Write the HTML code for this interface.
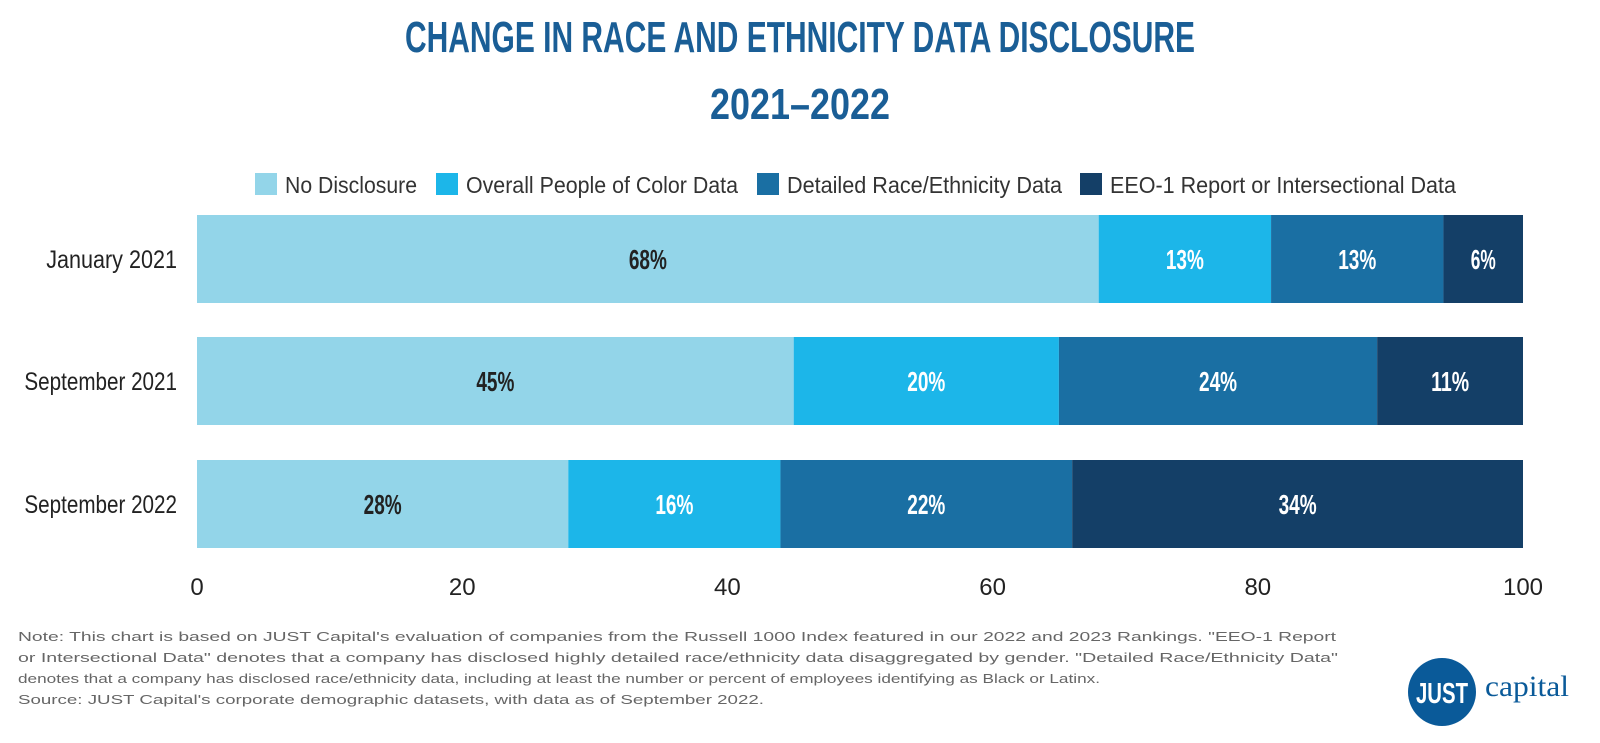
<!DOCTYPE html>
<html><head><meta charset="utf-8"><style>
body{margin:0;background:#fff;}
svg{display:block;font-family:"Liberation Sans",sans-serif;}
</style></head><body>
<svg id="chart" width="1600" height="743" viewBox="0 0 1600 743">
<text x="800" y="52" text-anchor="middle" font-size="44" font-weight="bold" fill="#1a5e96" textLength="790" lengthAdjust="spacingAndGlyphs">CHANGE IN RACE AND ETHNICITY DATA DISCLOSURE</text>
<text x="800" y="119" text-anchor="middle" font-size="44" font-weight="bold" fill="#1a5e96" textLength="180" lengthAdjust="spacingAndGlyphs">2021–2022</text>
<g id="legend"></g>
<g id="bars"></g>
<g id="axis"></g>
<text font-size="13" fill="#666">
<tspan x="18" y="641" textLength="1318" lengthAdjust="spacingAndGlyphs">Note: This chart is based on JUST Capital's evaluation of companies from the Russell 1000 Index featured in our 2022 and 2023 Rankings. "EEO-1 Report</tspan>
<tspan x="18" y="662" textLength="1320" lengthAdjust="spacingAndGlyphs">or Intersectional Data" denotes that a company has disclosed highly detailed race/ethnicity data disaggregated by gender. "Detailed Race/Ethnicity Data"</tspan>
<tspan x="18" y="683" textLength="1082" lengthAdjust="spacingAndGlyphs">denotes that a company has disclosed race/ethnicity data, including at least the number or percent of employees identifying as Black or Latinx.</tspan>
<tspan x="18" y="704" textLength="746" lengthAdjust="spacingAndGlyphs">Source: JUST Capital's corporate demographic datasets, with data as of September 2022.</tspan>
</text>
<g>
<circle cx="1442" cy="692" r="34" fill="#0a5a99"/>
<text x="1442" y="703" text-anchor="middle" font-size="29" font-weight="bold" fill="#fff" textLength="52" lengthAdjust="spacingAndGlyphs">JUST</text>
<text x="1485" y="696" font-family="Liberation Serif,serif" font-size="30" fill="#0a5a99" textLength="84" lengthAdjust="spacingAndGlyphs">capital</text>
</g>
</svg>
<script>
const categories=["January 2021","September 2021","September 2022"];
const seriesNames=["No Disclosure","Overall People of Color Data","Detailed Race/Ethnicity Data","EEO-1 Report or Intersectional Data"];
const noDisclosure=[68,45,28];
const overallPOC=[13,20,16];
const detailedRace=[13,24,22];
const eeo1=[6,11,34];
const ticks=[0,20,40,60,80,100];
const series=[noDisclosure,overallPOC,detailedRace,eeo1];
const colors=["#93d5e9","#1cb6e9","#1a6fa3","#143f67"];
const textColors=["#222","#fff","#fff","#fff"];
const NS="http://www.w3.org/2000/svg";
const x0=197,x1=1523;
const xs=v=>x0+(x1-x0)*v/100;
const rowTop=[215,337,460],barH=88;
function mk(t,a,p){const e=document.createElementNS(NS,t);for(const k in a)e.setAttribute(k,a[k]);p.appendChild(e);return e;}
const bars=document.getElementById('bars');
categories.forEach((c,i)=>{
  const y=rowTop[i];
  const lab=mk('text',{x:177,y:y+barH/2+9,'text-anchor':'end','font-size':25,fill:'#222',textLength:(c.length*10.9),lengthAdjust:'spacingAndGlyphs'},bars);
  lab.textContent=c;
  
  
  let cum=0;
  series.forEach((s,j)=>{
    const v=s[i];
    const r=mk('rect',{x:xs(cum),y:y,width:xs(cum+v)-xs(cum),height:barH,fill:colors[j]},bars);
    
    
    const t=mk('text',{x:(xs(cum)+xs(cum+v))/2,y:y+barH/2+10,'text-anchor':'middle','font-size':28,'font-weight':'bold',fill:textColors[j],textLength:(String(v).length*13+12),lengthAdjust:'spacingAndGlyphs'},bars);
    t.textContent=v+'%';
    
    
    cum+=v;
  });
});
const axis=document.getElementById('axis');
ticks.forEach(t=>{
  const e=mk('text',{x:xs(t),y:595,'text-anchor':'middle','font-size':24,fill:'#222'},axis);
  e.textContent=t;
  
  
});
const legend=document.getElementById('legend');
const lx=[255,436,757,1080],lw=[132,272,275,346];
seriesNames.forEach((n,j)=>{
  const g=mk('g',{},legend);
  
  
  mk('rect',{x:lx[j],y:173,width:22,height:22,fill:colors[j]},g);
  const t=mk('text',{x:lx[j]+30,y:193,'font-size':23,fill:'#333',textLength:lw[j],lengthAdjust:'spacingAndGlyphs'},g);
  t.textContent=n;
});
</script>
</body></html>
